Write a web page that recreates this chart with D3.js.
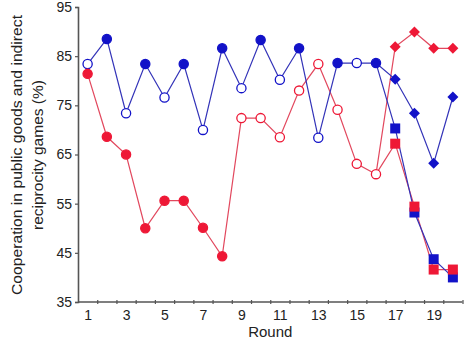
<!DOCTYPE html>
<html><head><meta charset="utf-8">
<script src="https://cdn.jsdelivr.net/npm/d3@7"></script>
<style>
html,body{margin:0;padding:0;background:#fff;}
svg{display:block;font-family:"Liberation Sans",Arial,sans-serif;}
</style></head>
<body>
<svg id="c" width="466" height="339"></svg>
<script>
// ---- data ----
const rounds = d3.range(1, 21);
const xTickLabels = [1, 3, 5, 7, 9, 11, 13, 15, 17, 19];
const yTicks = [35, 45, 55, 65, 75, 85, 95];

// blue circle series, rounds 1-16 (filled / open alternate)
const blueCircleRounds = d3.range(1, 17);
const blueCircleValues = [83.4, 88.5, 73.4, 83.4, 76.6, 83.4, 70.0, 86.6, 78.5, 88.3, 80.2, 86.6, 68.4, 83.6, 83.6, 83.6];
const blueCircleFilled = [false, true, false, true, false, true, false, true, false, true, false, true, false, true, false, true];

// red circle series, rounds 1-16
const redCircleRounds = d3.range(1, 17);
const redCircleValues = [81.4, 68.6, 65.0, 50.0, 55.6, 55.6, 50.1, 44.3, 72.4, 72.4, 68.5, 78.0, 83.4, 74.1, 63.1, 61.0];
const redCircleFilled = [true, true, true, true, true, true, true, true, false, false, false, false, false, false, false, false];

// rounds 17-20 branches
const branchRounds = [17, 18, 19, 20];
const blueDiamondValues = [80.3, 73.4, 63.2, 76.7];
const blueSquareValues = [70.3, 53.2, 43.7, 40.0];
const redDiamondValues = [86.9, 89.9, 86.6, 86.6];
const redSquareValues = [67.2, 54.4, 41.6, 41.6];

const yLabelLines = ["Cooperation in public goods and indirect", "reciprocity games (%)"];
const xLabel = "Round";

// ---- drawing ----
const svg = d3.select("#c");
const x = d3.scaleLinear().domain([0.5, 20.5]).range([78, 462.5]);
const y = d3.scaleLinear().domain([35, 95]).range([302, 7]);

const blue = "#1212c8", blueLine = "#3333b8";
const red = "#ee1836", redLine = "#e2485e";
const axisColor = "#555";

// axes
const gy = svg.append("g").attr("transform", `translate(${x(0.5)},0)`)
  .call(d3.axisLeft(y).tickValues(yTicks).tickSize(3).tickPadding(3));
const gx = svg.append("g").attr("transform", `translate(0,${y(35)})`)
  .call(d3.axisBottom(x).tickValues(xTickLabels).tickSize(0).tickPadding(8));
const gxm = svg.append("g").attr("transform", `translate(0,${y(35)})`)
  .call(d3.axisBottom(x).tickValues(d3.range(1.5, 21, 1)).tickSize(2).tickFormat(""));
gxm.selectAll(".tick line").attr("y1", -2);
gxm.select(".domain").remove();
[gy, gx, gxm].forEach(g => {
  g.selectAll(".domain").attr("stroke", axisColor).attr("stroke-width", 1.6);
  g.selectAll(".tick line").attr("stroke", axisColor).attr("stroke-width", 1.2);
  g.selectAll("text").attr("font-size", 14).attr("fill", "#222")
    .attr("font-family", "Liberation Sans, Arial, sans-serif");
});
gx.select(".domain").attr("d", `M${x(0.5)},0H${x(20.5)}`);

// axis titles
svg.append("text").attr("transform", `translate(21.5,155) rotate(-90)`)
  .attr("text-anchor", "middle").attr("font-size", 14).attr("fill", "#222")
  .attr("textLength", 280).attr("lengthAdjust", "spacingAndGlyphs")
  .text(yLabelLines[0]);
svg.append("text").attr("transform", `translate(43,155) rotate(-90)`)
  .attr("text-anchor", "middle").attr("font-size", 14).attr("fill", "#222")
  .attr("textLength", 150).attr("lengthAdjust", "spacingAndGlyphs")
  .text(yLabelLines[1]);
svg.append("text").attr("x", (x(0.5) + x(20.5)) / 2).attr("y", 337)
  .attr("text-anchor", "middle").attr("font-size", 15).attr("fill", "#222")
  .text(xLabel);

// series
const line = d3.line().x(d => x(d[0])).y(d => y(d[1]));
const pts = (rs, vs) => rs.map((r, i) => [r, vs[i]]);

const blueCircles = pts(blueCircleRounds, blueCircleValues);
const redCircles = pts(redCircleRounds, redCircleValues);
const lastBlue = blueCircles[blueCircles.length - 1];
const lastRed = redCircles[redCircles.length - 1];
const blueDiamonds = pts(branchRounds, blueDiamondValues);
const blueSquares = pts(branchRounds, blueSquareValues);
const redDiamonds = pts(branchRounds, redDiamondValues);
const redSquares = pts(branchRounds, redSquareValues);

function drawLine(data, color) {
  svg.append("path").datum(data).attr("d", line)
    .attr("fill", "none").attr("stroke", color).attr("stroke-width", 1.2);
}
drawLine(redCircles, redLine);
drawLine([lastRed, ...redDiamonds], redLine);
drawLine([lastRed, ...redSquares], redLine);
drawLine(blueCircles, blueLine);
drawLine([lastBlue, ...blueDiamonds], blueLine);
drawLine([lastBlue, ...blueSquares], blueLine);

function circles(data, filled, color) {
  svg.append("g").selectAll("circle").data(data).join("circle")
    .attr("cx", d => x(d[0])).attr("cy", d => y(d[1])).attr("r", 4.6)
    .attr("fill", (d, i) => filled[i] ? color : "#fff")
    .attr("stroke", color).attr("stroke-width", 1.3);
}
function diamonds(data, color) {
  const h = 5.5;
  svg.append("g").selectAll("path").data(data).join("path")
    .attr("d", d => { const cx = x(d[0]), cy = y(d[1]);
      return `M${cx},${cy - h}L${cx + h},${cy}L${cx},${cy + h}L${cx - h},${cy}Z`; })
    .attr("fill", color);
}
function squares(data, color) {
  const s = 10;
  svg.append("g").selectAll("rect").data(data).join("rect")
    .attr("x", d => x(d[0]) - s / 2).attr("y", d => y(d[1]) - s / 2)
    .attr("width", s).attr("height", s).attr("fill", color);
}
circles(blueCircles, blueCircleFilled, blue);
diamonds(blueDiamonds, blue);
squares(blueSquares, blue);
circles(redCircles, redCircleFilled, red);
diamonds(redDiamonds, red);
squares(redSquares, red);
</script>
</body></html>
